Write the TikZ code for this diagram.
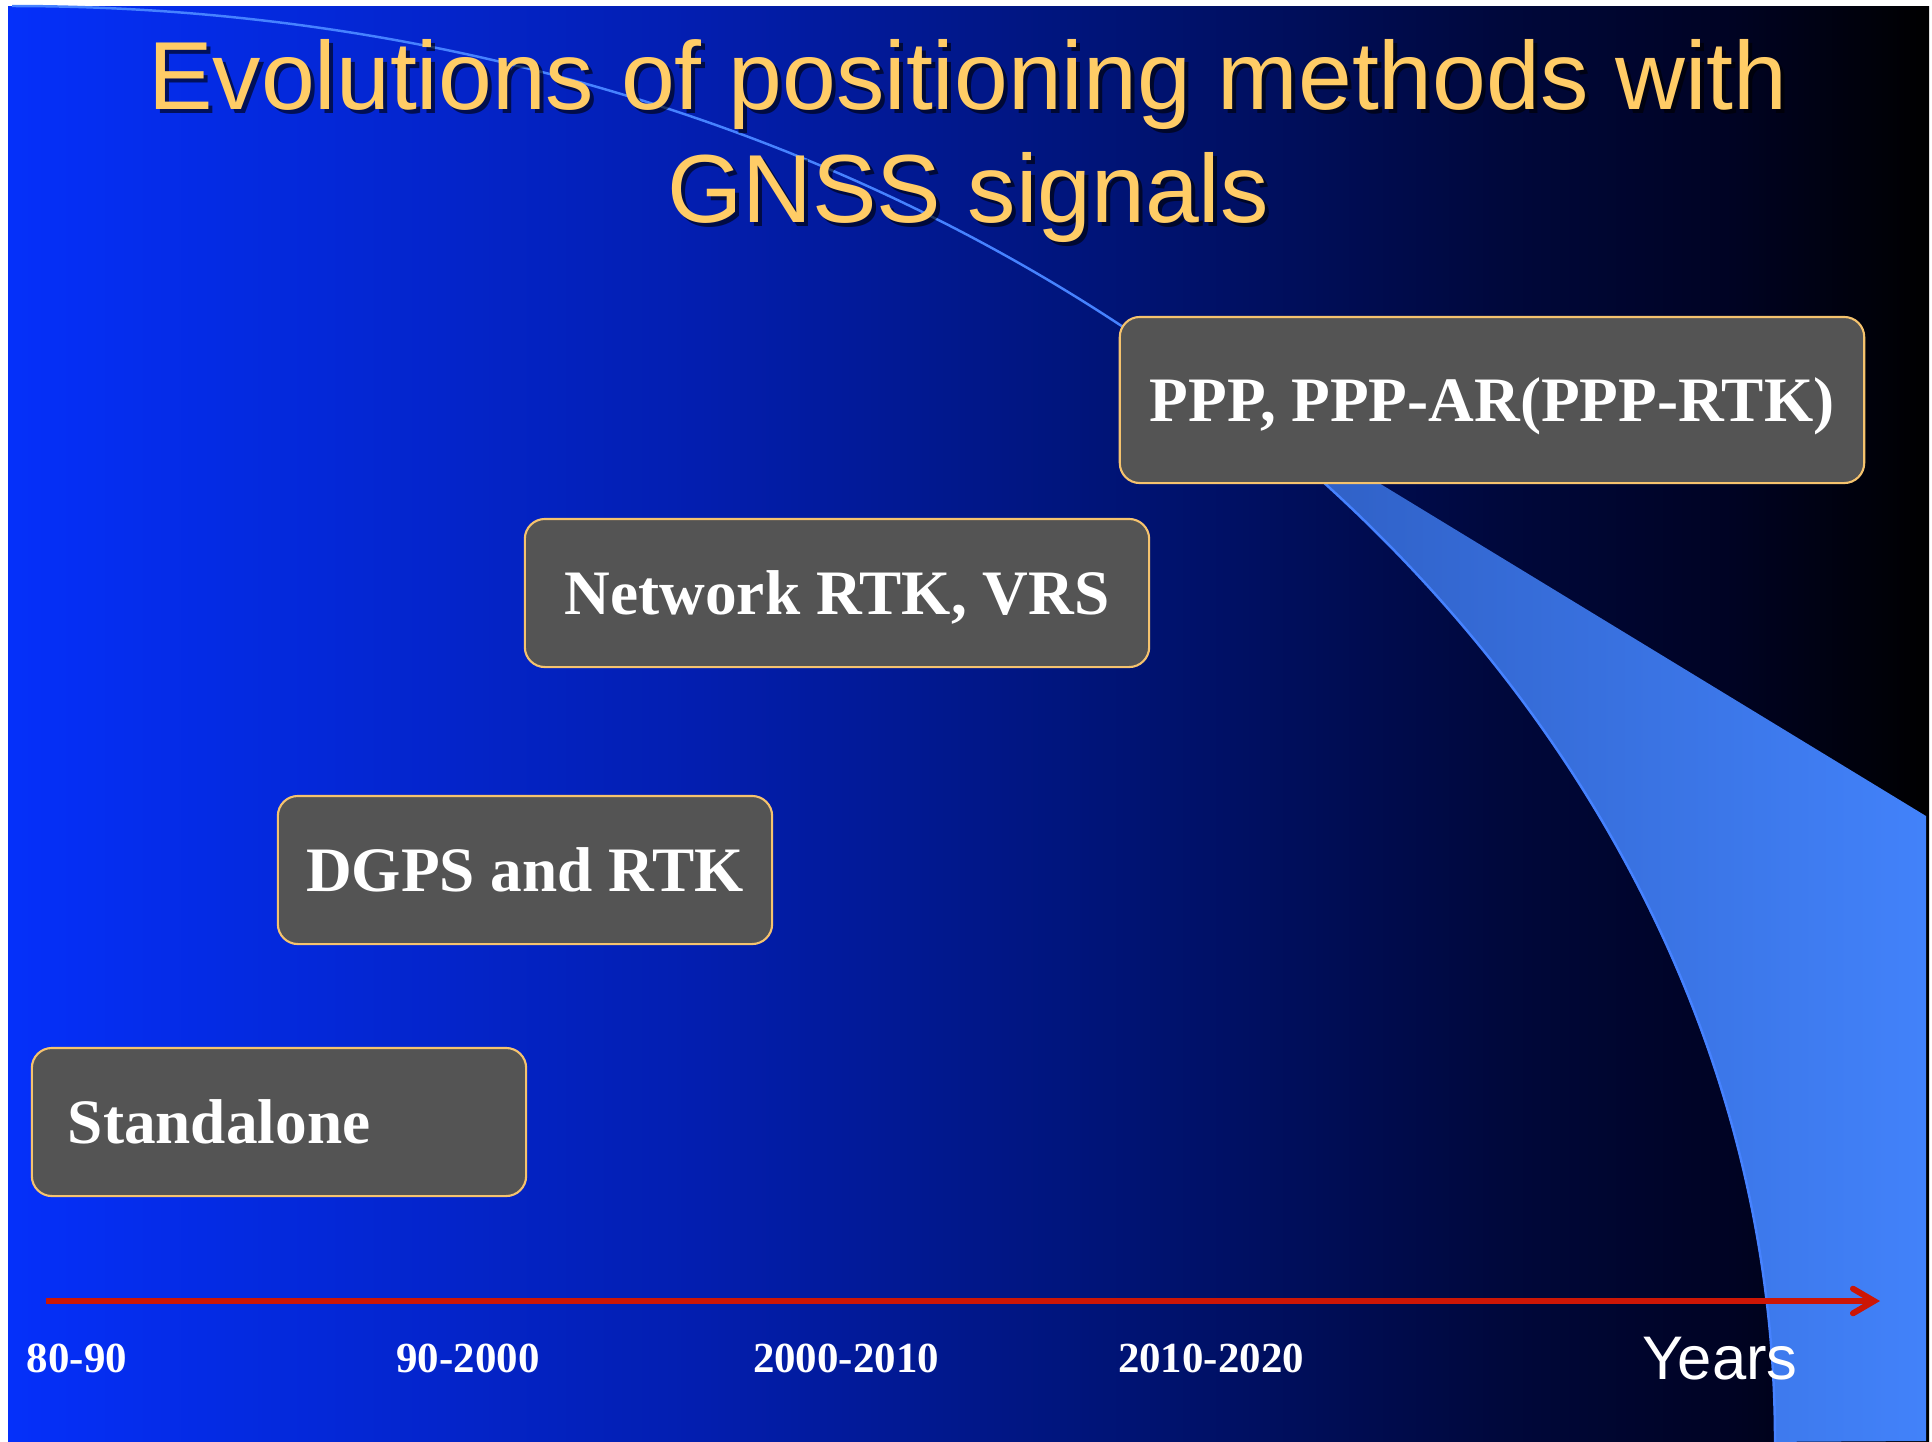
\documentclass[tikz,border=0pt]{standalone}
\usepackage{fontspec}
\setmainfont{Liberation Serif}
\newfontfamily\headfont{Liberation Sans}
\usetikzlibrary{arrows.meta}

\definecolor{bgA}{RGB}{5,48,250}
\definecolor{bgB}{RGB}{3,30,175}
\definecolor{bgC}{RGB}{0,20,120}
\definecolor{bgD}{RGB}{0,8,60}
\definecolor{bgE}{RGB}{0,3,35}
\definecolor{bandL}{RGB}{42,86,182}
\definecolor{bandR}{RGB}{66,130,250}
\definecolor{arcblue}{RGB}{70,130,255}
\definecolor{titlegold}{RGB}{255,204,102}
\definecolor{boxfill}{RGB}{84,84,84}
\definecolor{boxline}{RGB}{245,195,110}
\definecolor{axisred}{RGB}{205,22,5}

% blue to black, left to right
\pgfdeclarehorizontalshading{slidebg}{100bp}{color(0bp)=(bgA); color(25bp)=(bgA);
  color(43bp)=(bgB); color(53.4bp)=(bgC); color(63.8bp)=(bgD); color(69.9bp)=(bgE);
  color(75bp)=(black); color(100bp)=(black)}

\begin{document}
\begin{tikzpicture}[x=0.01cm, y=0.01cm,
    headline/.style={anchor=base, align=center, inner sep=0pt, text=titlegold,
      font=\headfont\fontsize{27.5}{32.1}\selectfont},
    method/.style={draw=boxline, line width=0.6pt, fill=boxfill, rounded corners=0.2cm,
      text=white, font=\bfseries\fontsize{18}{20}\selectfont, inner sep=0pt,
      minimum height=1.48cm, text height=12pt, text depth=0pt},
    yearlbl/.style={anchor=base, text=white, inner sep=0pt,
      font=\bfseries\fontsize{12.2}{14}\selectfont},
    timeaxis/.style={draw=axisred, line width=1.7pt,
      -{Straight Barb[length=6pt, width=7pt, line cap=round]}}]

% page and slide background
\useasboundingbox (0,0) rectangle (1932,-1441);
\fill[white] (0,0) rectangle (1932,-1441);
\shade[shading=slidebg] (8,-6) rectangle (1929,-1441);

% light band under the big arc
\shade[left color=bandL, right color=bandR] (1121,-326)
  arc[start angle=51, end angle=0, x radius=17.62cm, y radius=14.35cm]
  -- (1926,-1441) -- (1926,-816) -- cycle;
\draw[arcblue, line width=0.7pt] (12,-6)
  arc[start angle=90, end angle=0, x radius=17.62cm, y radius=14.35cm];

% title with its shadow (base is the last line)
\node[headline, text=black, opacity=.6] (tshadow) at (972,-226)
  {Evolutions of positioning methods with\\GNSS signals};
\node[headline] (title) at (968,-222)
  {Evolutions of positioning methods with\\GNSS signals};

% methods
\node[method, minimum width=7.44cm, minimum height=1.66cm] (ppp) at (1492,-400) {PPP, PPP-AR(PPP-RTK)};
\node[method, minimum width=6.24cm] (nrtk) at (837,-593) {Network RTK, VRS};
\node[method, minimum width=4.94cm] (dgps) at (525,-870) {DGPS and RTK};
\node[method, text width=4.22cm, align=left, inner xsep=0.36cm] (alone) at (279,-1122) {Standalone};

% time axis
\coordinate (t0) at (46,-1301);
\coordinate (t1) at (1880,-1301);
\draw[timeaxis] (t0) -- (t1);

\foreach \x/\yr [count=\i] in {77/80-90, 468/90-2000, 846/2000-2010, 1211/2010-2020}
  \node[yearlbl] (yr\i) at (\x,-1372) {\yr};
\node[yearlbl, font=\headfont\fontsize{17.5}{20}\selectfont] (years) at (1720,-1379) {Years};
\end{tikzpicture}
\end{document}
